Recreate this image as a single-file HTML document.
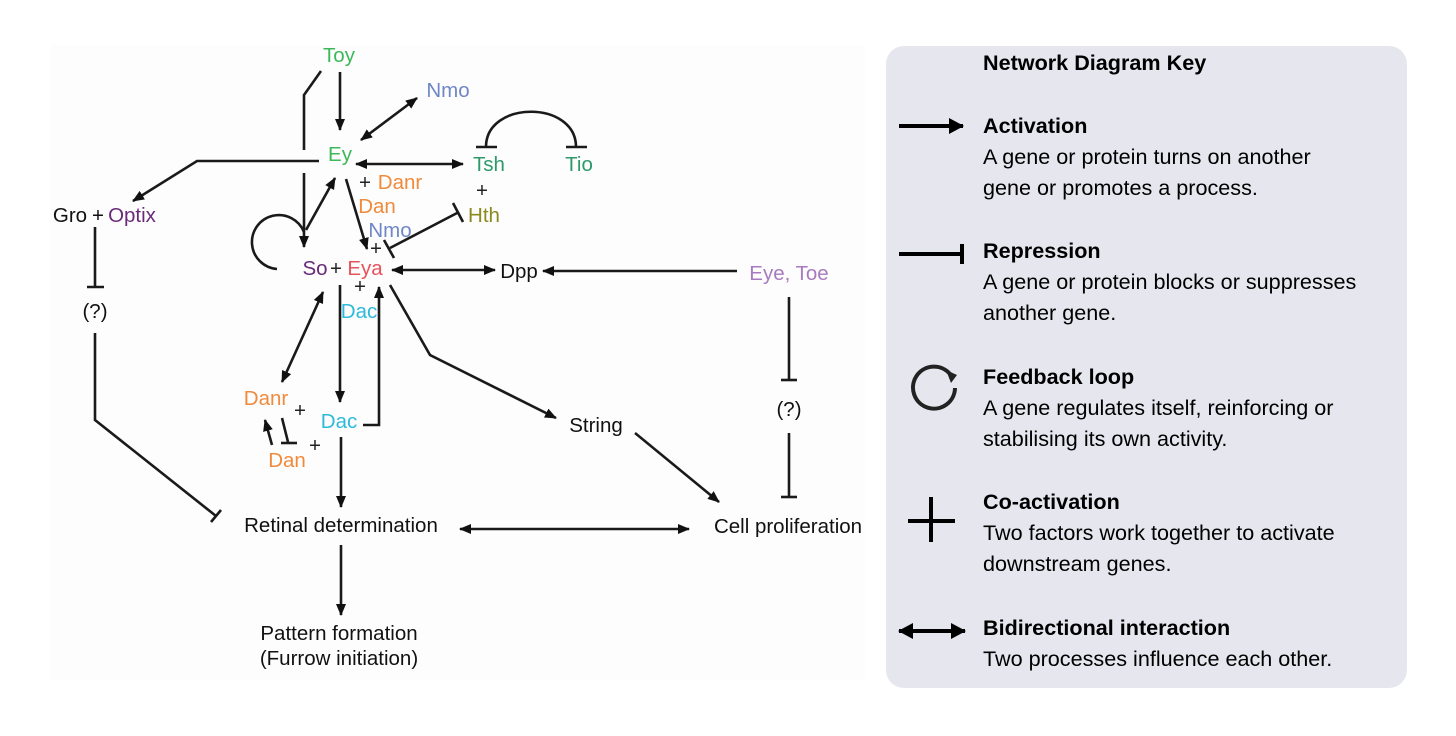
<!DOCTYPE html>
<html><head><meta charset="utf-8"><style>
html,body{margin:0;padding:0;background:#fff;}
body{width:1456px;height:736px;overflow:hidden;position:relative;font-family:"Liberation Sans",Arial,sans-serif;}
svg{position:absolute;left:0;top:0;}
</style></head><body>
<svg width="1456" height="736" viewBox="0 0 1456 736" font-family="Liberation Sans, Arial, sans-serif">
<defs>
<marker id="a" markerWidth="14" markerHeight="12" refX="11" refY="6" orient="auto-start-reverse" markerUnits="userSpaceOnUse">
<path d="M0,1 L12,6 L0,11 Z" fill="#111"/></marker>
<marker id="k" markerWidth="16" markerHeight="18" refX="14" refY="9" orient="auto-start-reverse" markerUnits="userSpaceOnUse">
<path d="M0,1 L15,9 L0,17 Z" fill="#000"/></marker>
</defs>
<rect x="50" y="45" width="815" height="635" fill="#fdfdfd"/>
<g stroke="#1a1a1a" stroke-width="2.6" fill="none">
<line x1="340" y1="72" x2="340" y2="130" marker-end="url(#a)"/>
<polyline points="321,71 304,95 304,150"/>
<line x1="304" y1="173" x2="304" y2="247" marker-end="url(#a)"/>
<polyline points="319,161 197,161 133,201" marker-end="url(#a)"/>
<line x1="417" y1="98" x2="361" y2="140" marker-start="url(#a)" marker-end="url(#a)"/>
<line x1="356" y1="164" x2="463" y2="164" marker-start="url(#a)" marker-end="url(#a)"/>
<path d="M486,147 C486,100 576,100 576,147"/>
<line x1="476" y1="147" x2="497" y2="147"/>
<line x1="566" y1="147" x2="587" y2="147"/>
<line x1="459" y1="212" x2="390" y2="248"/>
<line x1="384" y1="240" x2="394" y2="258"/>
<line x1="453" y1="203" x2="463" y2="222"/>
<line x1="346" y1="179" x2="367" y2="249" marker-end="url(#a)"/>
<line x1="306" y1="230" x2="335" y2="178" marker-end="url(#a)"/>
<path d="M304,232 A27,27 0 1 0 277,269"/>
<line x1="392" y1="270" x2="495" y2="270" marker-start="url(#a)" marker-end="url(#a)"/>
<line x1="737" y1="271" x2="543" y2="271" marker-end="url(#a)"/>
<line x1="95" y1="227" x2="95" y2="287"/>
<line x1="87" y1="287" x2="104" y2="287"/>
<polyline points="95,333 95,420 216,516"/>
<line x1="211" y1="522" x2="221" y2="510"/>
<line x1="323" y1="292" x2="282" y2="382" marker-start="url(#a)" marker-end="url(#a)"/>
<line x1="340" y1="285" x2="340" y2="402" marker-end="url(#a)"/>
<polyline points="363,425 379,425 379,287" marker-end="url(#a)"/>
<polyline points="390,285 430,355 556,418" marker-end="url(#a)"/>
<line x1="272" y1="445" x2="265" y2="420" marker-end="url(#a)"/>
<line x1="282" y1="418" x2="288" y2="442"/>
<line x1="281" y1="443" x2="297" y2="443"/>
<line x1="341" y1="437" x2="341" y2="507" marker-end="url(#a)"/>
<line x1="460" y1="529" x2="689" y2="529" marker-start="url(#a)" marker-end="url(#a)"/>
<line x1="341" y1="545" x2="341" y2="615" marker-end="url(#a)"/>
<line x1="635" y1="433" x2="719" y2="502" marker-end="url(#a)"/>
<line x1="789" y1="297" x2="789" y2="380"/>
<line x1="781" y1="380" x2="797" y2="380"/>
<line x1="789" y1="433" x2="789" y2="497"/>
<line x1="781" y1="497" x2="797" y2="497"/>
</g>
<g font-size="20.5" text-anchor="middle">
<text x="339" y="62" fill="#3cb95a">Toy</text>
<text x="448" y="97" fill="#6f87c4">Nmo</text>
<text x="340" y="161" fill="#3cb95a">Ey</text>
<text x="489" y="171" fill="#2e9a6a">Tsh</text>
<text x="579" y="171" fill="#2e9a6a">Tio</text>
<text x="482" y="197" fill="#222">+</text>
<text x="484" y="222" fill="#8a8a1e">Hth</text>
<text x="365" y="189" fill="#222">+</text>
<text x="400" y="189" fill="#f08a3c">Danr</text>
<text x="377" y="213" fill="#f08a3c">Dan</text>
<text x="390" y="237" fill="#6f87c4">Nmo</text>
<text x="376" y="255" fill="#222">+</text>
<text x="315" y="275" fill="#6a2a7a">So</text>
<text x="336" y="275" fill="#222">+</text>
<text x="365" y="275" fill="#e8525a">Eya</text>
<text x="360" y="293" fill="#222">+</text>
<text x="359" y="318" fill="#2ebadb">Dac</text>
<text x="519" y="278" fill="#111">Dpp</text>
<text x="789" y="280" fill="#a87bc0">Eye, Toe</text>
<text x="70" y="222" fill="#111">Gro</text>
<text x="98" y="222" fill="#111">+</text>
<text x="132" y="222" fill="#6a2a7a">Optix</text>
<text x="95" y="318" fill="#111">(?)</text>
<text x="266" y="405" fill="#f08a3c">Danr</text>
<text x="300" y="417" fill="#222">+</text>
<text x="339" y="428" fill="#2ebadb">Dac</text>
<text x="287" y="467" fill="#f08a3c">Dan</text>
<text x="315" y="452" fill="#222">+</text>
<text x="596" y="432" fill="#111">String</text>
<text x="789" y="416" fill="#111">(?)</text>
<text x="341" y="532" fill="#111">Retinal determination</text>
<text x="788" y="533" fill="#111">Cell proliferation</text>
<text x="339" y="640" fill="#111">Pattern formation</text>
<text x="339" y="665" fill="#111">(Furrow initiation)</text>
</g>
<rect x="886" y="46" width="521" height="642" rx="18" fill="#e6e6ef"/>
<g fill="#000" font-size="21.6">
<text x="983" y="70" font-weight="bold">Network Diagram Key</text>
<text x="983" y="133" font-weight="bold">Activation</text>
<text x="983" y="164">A gene or protein turns on another</text>
<text x="983" y="195">gene or promotes a process.</text>
<text x="983" y="258" font-weight="bold">Repression</text>
<text x="983" y="289">A gene or protein blocks or suppresses</text>
<text x="983" y="320">another gene.</text>
<text x="983" y="384" font-weight="bold">Feedback loop</text>
<text x="983" y="415">A gene regulates itself, reinforcing or</text>
<text x="983" y="446">stabilising its own activity.</text>
<text x="983" y="509" font-weight="bold">Co-activation</text>
<text x="983" y="540">Two factors work together to activate</text>
<text x="983" y="571">downstream genes.</text>
<text x="983" y="635" font-weight="bold">Bidirectional interaction</text>
<text x="983" y="666">Two processes influence each other.</text>
</g>
<g stroke="#000" stroke-width="4" fill="none">
<line x1="899" y1="126" x2="963" y2="126" marker-end="url(#k)"/>
<line x1="899" y1="254" x2="962" y2="254"/>
<line x1="962" y1="244" x2="962" y2="264"/>
<path d="M955,388 A21,21 0 1 1 950,374" stroke="#222"/>
<line x1="908" y1="521" x2="955" y2="521"/>
<line x1="931" y1="497" x2="931" y2="542"/>
<line x1="899" y1="631" x2="965" y2="631" marker-start="url(#k)" marker-end="url(#k)"/>
</g>
<path d="M946,370 L957,375 L951,383 Z" fill="#222"/>
</svg>
</body></html>
